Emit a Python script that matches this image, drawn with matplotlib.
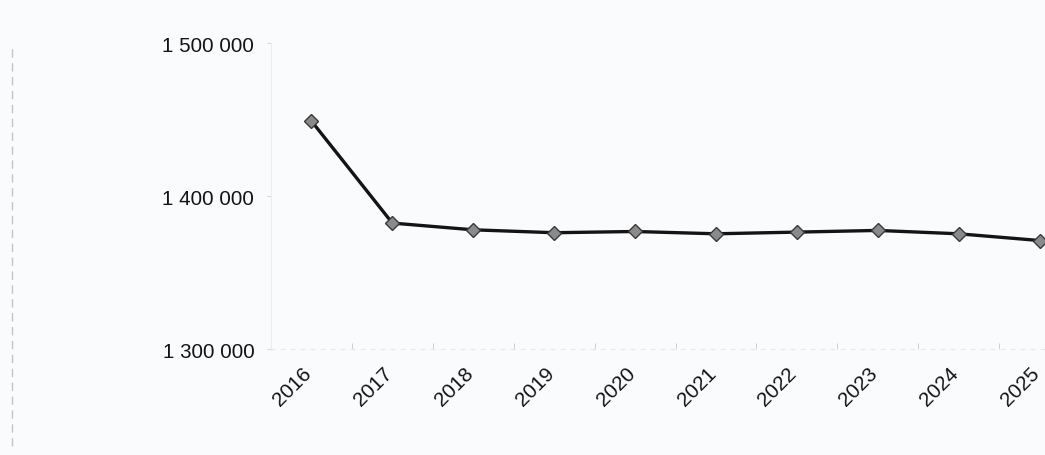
import matplotlib
matplotlib.use('Agg')
import matplotlib.pyplot as plt
import matplotlib.transforms as mtransforms
from matplotlib.ticker import FuncFormatter, FixedLocator
from matplotlib.lines import Line2D

# data
years = ['2016', '2017', '2018', '2019', '2020', '2021', '2022', '2023', '2024', '2025']
values = [1449000, 1382300, 1377900, 1376000, 1376800, 1375300, 1376400, 1377500, 1375300, 1370900]
y_ticks = [1300000, 1400000, 1500000]

plt.rcParams['font.family'] = ['Liberation Sans', 'DejaVu Sans']

bg = '#fafbfd'
fig = plt.figure(figsize=(10.45, 4.56), dpi=100, facecolor=bg)
# plot area runs past the right edge of the scan, like the original
ax = fig.add_axes([271 / 1045, (456 - 350) / 456, 809 / 1045, 306 / 456])
ax.set_facecolor(bg)

x = list(range(len(years)))
ax.plot(x, values, color='#141414', linewidth=2.4, marker='D', markersize=7,
        markerfacecolor='#8a8a8a', markeredgecolor='#3a3a3a', markeredgewidth=1.0,
        zorder=3)

ax.set_xlim(-0.5, len(years) - 0.5)
ax.set_ylim(1300000, 1500000)
ax.set_yticks(y_ticks)
ax.yaxis.set_major_formatter(FuncFormatter(lambda v, p: f'{int(v):,}'.replace(',', ' ')))

ax.set_xticks(x)
ax.set_xticklabels(years)
ax.xaxis.set_minor_locator(FixedLocator([i + 0.5 for i in x]))
ax.tick_params(axis='x', which='major', length=0, pad=15, labelsize=14.8, labelcolor='#141414')
ax.tick_params(axis='x', which='minor', length=4, color='#c8c8c8', direction='in')
ax.tick_params(axis='y', length=3, color='#d8d8d8', pad=9, labelsize=14.8, labelcolor='#141414')

shift = mtransforms.ScaledTranslation(-0.03, 0, fig.dpi_scale_trans)
for lbl in ax.get_xticklabels():
    lbl.set_rotation(45)
    lbl.set_ha('right')
    lbl.set_va('center')
    lbl.set_rotation_mode('anchor')
    lbl.set_transform(lbl.get_transform() + shift)

for side in ['top', 'right']:
    ax.spines[side].set_visible(False)
ax.spines['left'].set_color('#ededed')
ax.spines['bottom'].set_color('#e6e6e6')
ax.spines['bottom'].set_linestyle((0, (3, 6)))

# faint scan edge on the far left
fig.add_artist(Line2D([12 / 1045, 12 / 1045], [0.02, 0.9], transform=fig.transFigure,
                      color='#c4c4c4', linewidth=1, linestyle=(0, (6, 4))))

plt.savefig('out.png', dpi=100, facecolor=bg)
plt.close()
